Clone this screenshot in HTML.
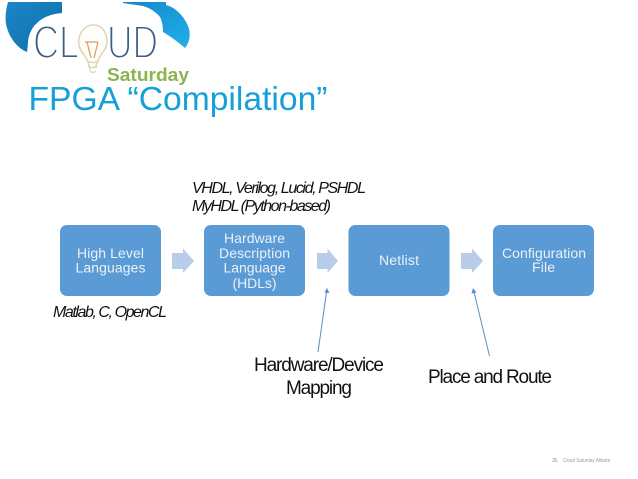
<!DOCTYPE html>
<html>
<head>
<meta charset="utf-8">
<style>
html,body{margin:0;padding:0;background:#fff;width:638px;height:479px;overflow:hidden}
svg{display:block}
text{font-family:"Liberation Sans",sans-serif}
.b{fill:#eaf1f8;font-size:14px;text-anchor:middle}
.k{fill:#111;font-style:italic;font-size:16px}
.n{fill:#111;font-size:19px}
</style>
</head>
<body>
<svg width="638" height="479" viewBox="0 0 638 479" xmlns="http://www.w3.org/2000/svg">
<defs>
<linearGradient id="c1" x1="0" y1="0" x2="1" y2="1"><stop offset="0" stop-color="#1b86c8"/><stop offset="1" stop-color="#0f6ea8"/></linearGradient>
<linearGradient id="c2" x1="0" y1="0" x2="1" y2="1"><stop offset="0" stop-color="#1487c9"/><stop offset="1" stop-color="#22aeea"/></linearGradient>
</defs>
<!-- logo clouds -->
<path d="M8 2 L62 2 L62 13 C50 14 42 18 37 23 C31 28 28 37 28 43 L27 52 C17 48 10 38 7 28 C5 22 5 12 8 2 Z" fill="url(#c1)"/>
<path d="M123 2 L166 2 L166 5 C175 7 184 16 188 26 C191 33 190 42 185 48 C178 42 170 36 163 32 C163 26 162 21 160 17 C156 12 150 8 143 6 C136 5 129 4 123 3 Z" fill="url(#c2)"/>
<!-- CLOUD letters -->
<g font-size="46" fill="#3f5f82" stroke="#fff" stroke-width="1.9" style="paint-order:fill stroke">
<text x="33" y="58" textLength="46" lengthAdjust="spacingAndGlyphs">CL</text>
<text x="107" y="58" textLength="51" lengthAdjust="spacingAndGlyphs">UD</text>
</g>
<!-- bulb -->
<path d="M90 70 C89 62 86 58 82 52 C78 46 78 40 80 35 C83 28 88 25 93 25 C99 25 104 28 106 35 C108 41 107 47 103 52 C99 58 96 62 96 68" fill="#fffdf8" stroke="#e0d6b8" stroke-width="1.6"/>
<path d="M87 61 Q92 64 99 61 M88 66 Q92 69 97 66 M90 71 Q93 74 96 71" fill="none" stroke="#e0d6b8" stroke-width="1.4"/>
<path d="M85 42 L98 42 M87 42 L91 58 M98 42 L94 58" fill="none" stroke="#d9986a" stroke-width="1.2"/>
<text x="107" y="81" font-size="18.5" font-weight="bold" fill="#8cb451" textLength="82" lengthAdjust="spacingAndGlyphs">Saturday</text>
<!-- title -->
<text x="28.5" y="110" font-size="33.5" fill="#15a0d8" textLength="299" lengthAdjust="spacingAndGlyphs">FPGA “Compilation”</text>
<!-- boxes -->
<rect x="60" y="225" width="101" height="71" rx="7" fill="#5b9bd5"/>
<rect x="204" y="225" width="101" height="71" rx="7" fill="#5b9bd5"/>
<rect x="348.5" y="225" width="101" height="71" rx="7" fill="#5b9bd5"/>
<rect x="493" y="225" width="101" height="71" rx="7" fill="#5b9bd5"/>
<!-- block arrows -->
<g fill="#b7cde8">
<path d="M172 253 H183 V248.5 L194 261 L183 273 V269 H172 Z"/>
<path d="M317 253 H327.5 V248.5 L338 261 L327.5 273 V269 H317 Z"/>
<path d="M461 253 H472 V248.5 L483 261 L472 273 V269 H461 Z"/>
</g>
<!-- box text -->
<text class="b" x="110.5" y="258" textLength="67">High Level</text>
<text class="b" x="110.5" y="272.5" textLength="70">Languages</text>
<text class="b" x="254.5" y="243" textLength="61">Hardware</text>
<text class="b" x="254.5" y="258" textLength="71">Description</text>
<text class="b" x="254.5" y="272.5" textLength="62">Language</text>
<text class="b" x="254.5" y="288" textLength="44">(HDLs)</text>
<text class="b" x="399" y="265" textLength="40">Netlist</text>
<text class="b" x="544" y="258" textLength="84">Configuration</text>
<text class="b" x="543.5" y="272" textLength="23">File</text>
<!-- annotations -->
<text class="k" x="192" y="193" textLength="174" lengthAdjust="spacing">VHDL, Verilog, Lucid, PSHDL</text>
<text class="k" x="192" y="211" textLength="139" lengthAdjust="spacing">MyHDL (Python-based)</text>
<text class="k" x="53" y="317" textLength="114" lengthAdjust="spacing">Matlab, C, OpenCL</text>
<text class="n" x="254" y="371" textLength="130" lengthAdjust="spacing">Hardware/Device</text>
<text class="n" x="286" y="394" textLength="66" lengthAdjust="spacing">Mapping</text>
<text class="n" x="428" y="383" textLength="124" lengthAdjust="spacing">Place and Route</text>
<!-- connectors -->
<g stroke="#5b8fc4" stroke-width="1" fill="none">
<line x1="318" y1="352" x2="326.5" y2="292"/>
<line x1="489.5" y1="356" x2="474" y2="292"/>
</g>
<path d="M327 288 L329.5 293 L324.5 292.5 Z" fill="#5b8fc4"/>
<path d="M473 288 L476.5 292.5 L471.5 293.5 Z" fill="#5b8fc4"/>
<!-- footer -->
<text x="552" y="462" font-size="5.5" fill="#9a9a9a" textLength="6">25.</text>
<text x="563" y="462" font-size="5.5" fill="#9a9a9a" textLength="47" lengthAdjust="spacingAndGlyphs">Cloud Saturday Atlanta</text>
</svg>
</body>
</html>
